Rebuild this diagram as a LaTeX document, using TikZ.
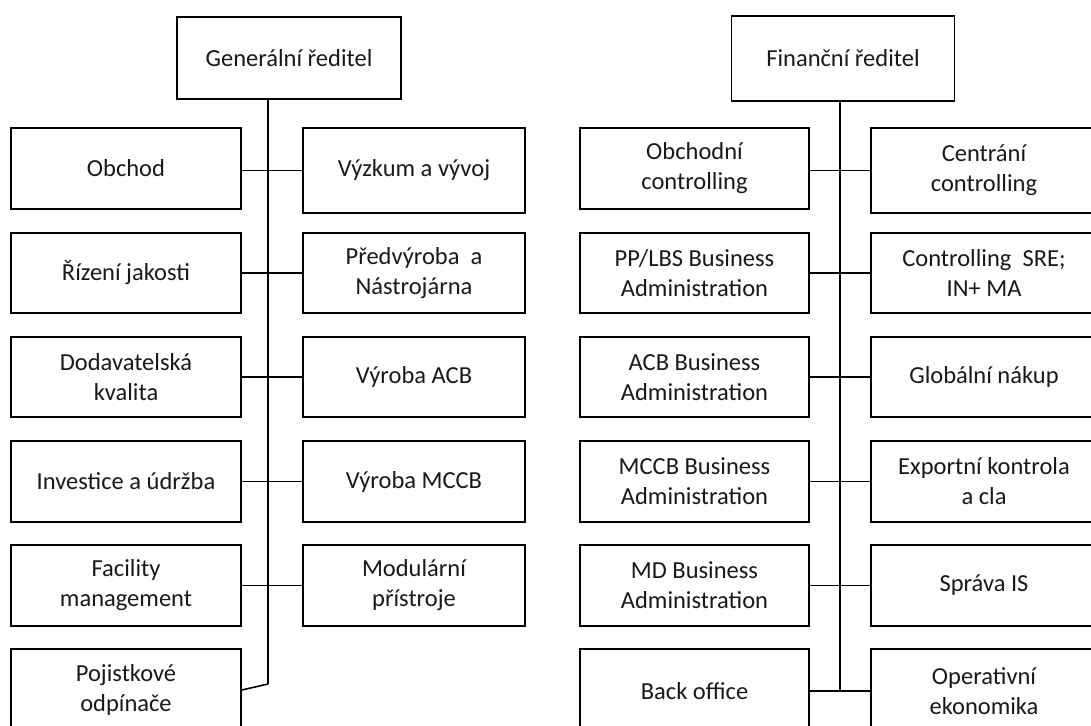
\documentclass[tikz,border=0pt]{standalone}
\usepackage{fontspec}
\setmainfont{Carlito}
\begin{document}
\begin{tikzpicture}[x=1pt,y=-1pt,
  unit/.style={draw=black, line width=1.6pt, fill=white, inner sep=0pt,
    align=center, font=\fontsize{24.5}{30}\selectfont, text=black!90},
  link/.style={draw=black, line width=1.6pt}]
\useasboundingbox (0,0) rectangle (1091,725);
\clip (0,0) rectangle (1091,725);
\fill[white] (0,0) rectangle (1091,725);

% --- Generální ředitel ---
\node[unit, minimum width=224.5, minimum height=82] (gr) at (289,58) {Generální ředitel};
\coordinate (gtop) at (268,99);
\coordinate (gend) at (268,684);

\node[unit, minimum width=230, minimum height=81]   (l1) at (126,168.5) {Obchod};
\node[unit, minimum width=222.5, minimum height=85] (r1) at (414,170.5) {Výzkum a vývoj};
\node[unit, minimum width=230, minimum height=80]   (l2) at (126,273) {Řízení jakosti};
\node[unit, minimum width=222.5, minimum height=80] (r2) at (414,273) {Předvýroba\ \ a\\Nástrojárna};
\node[unit, minimum width=230, minimum height=80]   (l3) at (126,377) {Dodavatelská\\kvalita};
\node[unit, minimum width=222.5, minimum height=80] (r3) at (414,377) {Výroba ACB};
\node[unit, minimum width=230, minimum height=81]   (l4) at (126,481.5) {Investice a údržba};
\node[unit, minimum width=222.5, minimum height=81] (r4) at (414,481.5) {Výroba MCCB};
\node[unit, minimum width=230, minimum height=81]   (l5) at (126,585.5) {Facility\\management};
\node[unit, minimum width=222.5, minimum height=81] (r5) at (414,585.5) {Modulární\\přístroje};
\node[unit, minimum width=230, minimum height=82]   (l6) at (126,690) {Pojistkové\\odpínače};

\draw[link] (gtop) -- (gend);
\draw[link] (l1.east |- r1.west) -- (r1.west);
\draw[link] (l2.east) -- (r2.west);
\draw[link] (l3.east) -- (r3.west);
\draw[link] (l4.east) -- (r4.west);
\draw[link] (l5.east) -- (r5.west);
\draw[link] (l6.east) -- (gend);

% --- Finanční ředitel ---
\node[unit, minimum width=223, minimum height=85] (fr) at (843,58.5) {Finanční ředitel};
\coordinate (ftop) at (840,101);
\coordinate (fend) at (840,691);

\node[unit, minimum width=229, minimum height=81] (a1) at (694.5,168.5) {Obchodní\\controlling};
\node[unit, minimum width=226, minimum height=85] (b1) at (984,170.5) {Centrání\\controlling};
\node[unit, minimum width=229, minimum height=80] (a2) at (694.5,273) {PP/LBS Business\\Administration};
\node[unit, minimum width=226, minimum height=80] (b2) at (984,273) {Controlling\ \ SRE;\\IN+ MA};
\node[unit, minimum width=229, minimum height=80] (a3) at (694.5,377) {ACB Business\\Administration};
\node[unit, minimum width=226, minimum height=80] (b3) at (984,377) {Globální nákup};
\node[unit, minimum width=229, minimum height=81] (a4) at (694.5,481.5) {MCCB Business\\Administration};
\node[unit, minimum width=226, minimum height=81] (b4) at (984,481.5) {Exportní kontrola\\a cla};
\node[unit, minimum width=229, minimum height=81] (a5) at (694.5,585.5) {MD Business\\Administration};
\node[unit, minimum width=226, minimum height=81] (b5) at (984,585.5) {Správa IS};
\node[unit, minimum width=229, minimum height=84] (a6) at (694.5,691) {Back office};
\node[unit, minimum width=226, minimum height=84] (b6) at (984,691) {Operativní\\ekonomika};

\draw[link] (ftop) -- (fend);
\draw[link] (a1.east |- b1.west) -- (b1.west);
\draw[link] (a2.east) -- (b2.west);
\draw[link] (a3.east) -- (b3.west);
\draw[link] (a4.east) -- (b4.west);
\draw[link] (a5.east) -- (b5.west);
\draw[link] (a6.east) -- (b6.west);
\end{tikzpicture}
\end{document}
